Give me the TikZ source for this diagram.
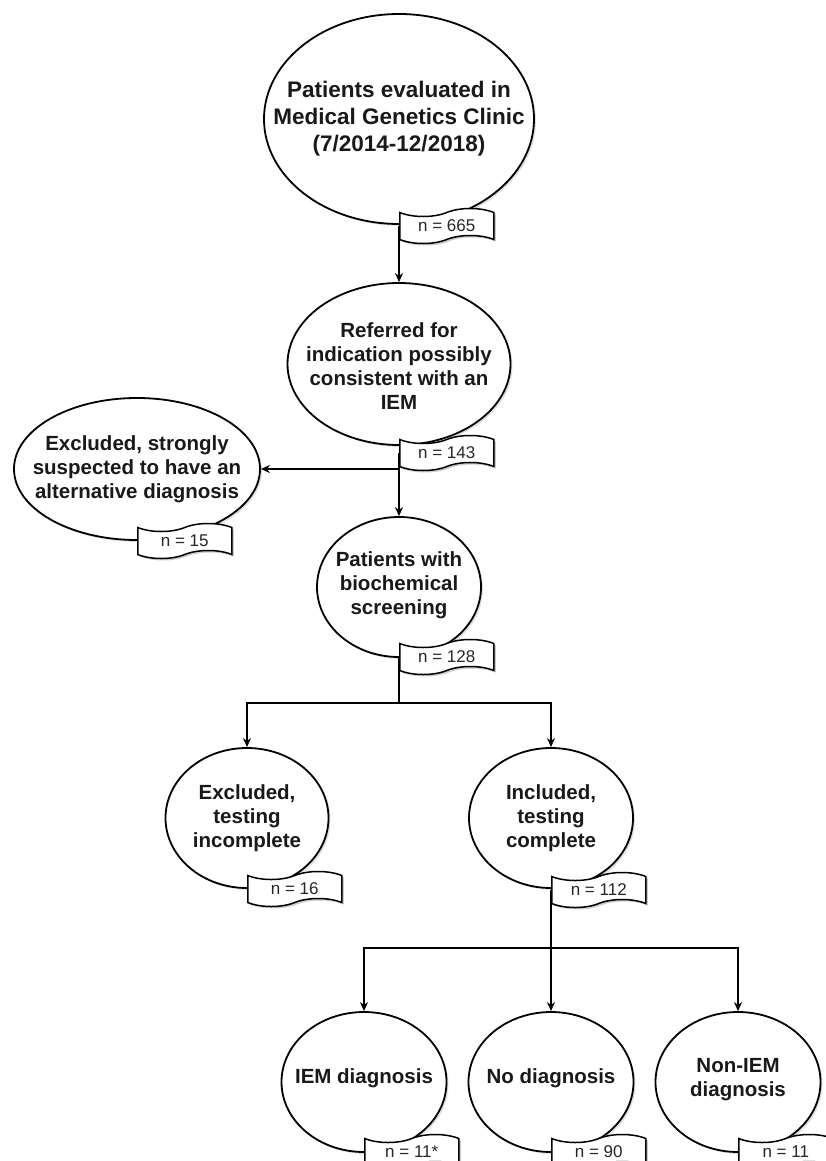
\documentclass[tikz,border=0pt]{standalone}
\usepackage{fontspec}
\setmainfont{Liberation Sans}
\usetikzlibrary{shapes.geometric,shapes.symbols,arrows.meta,shadows}
\pgfdeclarelayer{bg}
\pgfsetlayers{bg,main}
\begin{document}
\begin{tikzpicture}[x=1pt,y=-1pt,
  oval/.style={ellipse,draw,line width=1.8pt,fill=white,inner sep=0pt,
    drop shadow={shadow xshift=2pt,shadow yshift=-2pt,fill=black,opacity=0.12}},
  lbl/.style={align=center,font=\bfseries\fontsize{20.5}{24}\selectfont,text=black!90,inner sep=0pt},
  tag/.style={tape,draw,line width=1.5pt,fill=white,anchor=west,minimum width=94pt,minimum height=35pt,
    tape bend height=8pt,inner sep=0pt,font=\fontsize{17}{20}\selectfont,text=black!85,
    drop shadow={shadow xshift=2pt,shadow yshift=-2pt,fill=black,opacity=0.2}},
  conn/.style={line width=1.1pt,-{Stealth[length=9pt,width=8pt]}},
  plain/.style={line width=1.1pt}]
\useasboundingbox (0,0) rectangle (826,1161);
% ellipses
\node[oval,minimum width=270pt,minimum height=210pt] (e1) at (399,119) {};
\node[lbl,font=\bfseries\fontsize{22.5}{27}\selectfont] (t1) at (e1.center) {Patients evaluated in\\Medical Genetics Clinic\\(7/2014-12/2018)};
\node[tag] (g1) at (399,226) {n = 665};

\node[oval,minimum width=223pt,minimum height=162pt] (e2) at (399,364) {};
\node[lbl] (t2) at (399,366) {Referred for\\indication possibly\\consistent with an\\IEM};
\node[tag] (g2) at (399,453) {n = 143};

\node[oval,minimum width=246pt,minimum height=142pt] (eL) at (137,469) {};
\node[lbl] (tL) at (eL.center) {Excluded, strongly\\suspected to have an\\alternative diagnosis};
\node[tag] (gL) at (137,541) {n = 15};

\node[oval,minimum width=164pt,minimum height=140pt] (e3) at (399,587) {};
\node[lbl] (t3) at (399,585) {Patients with\\biochemical\\screening};
\node[tag] (g3) at (399,657) {n = 128};

\node[oval,minimum width=163pt,minimum height=140pt] (e4) at (247,818) {};
\node[lbl] (t4) at (e4.center) {Excluded,\\testing\\incomplete};
\node[tag] (g4) at (247,889) {n = 16};

\node[oval,minimum width=164pt,minimum height=140pt] (e5) at (551,818) {};
\node[lbl] (t5) at (e5.center) {Included,\\testing\\complete};
\node[tag] (g5) at (551,890) {n = 112};

\node[oval,minimum width=165pt,minimum height=140pt] (e6) at (364,1082) {};
\node[lbl] (t6) at (364,1078) {IEM diagnosis};
\node[tag] (g6) at (364,1152) {n = 11*};

\node[oval,minimum width=165pt,minimum height=140pt] (e7) at (551,1082) {};
\node[lbl] (t7) at (551,1078) {No diagnosis};
\node[tag] (g7) at (551,1152) {n = 90};

\node[oval,minimum width=165pt,minimum height=140pt] (e8) at (738,1082) {};
\node[lbl] (t8) at (738,1080) {Non-IEM\\diagnosis};
\node[tag] (g8) at (738,1152) {n = 11};

% connectors
\coordinate (b0) at (399,469);
\coordinate (b1) at (399,703);
\coordinate (b2) at (551,948);
\begin{pgfonlayer}{bg}
\draw[conn] (g1.center -| e1.center) -- (e2.north);
\draw[conn] (g2.center -| e2.center) -- (e3.north);
\draw[conn] (b0) -- (eL.east);
\draw[plain] (g3.center -| e3.center) -- (b1);
\draw[conn] (b1) -| (e4.north);
\draw[conn] (b1) -| (e5.north);
\draw[plain] (g5.center -| e5.center) -- (b2);
\draw[conn] (b2) -| (e6.north);
\draw[conn] (b2) -- (e7.north);
\draw[conn] (b2) -| (e8.north);
\end{pgfonlayer}
\end{tikzpicture}
\end{document}
